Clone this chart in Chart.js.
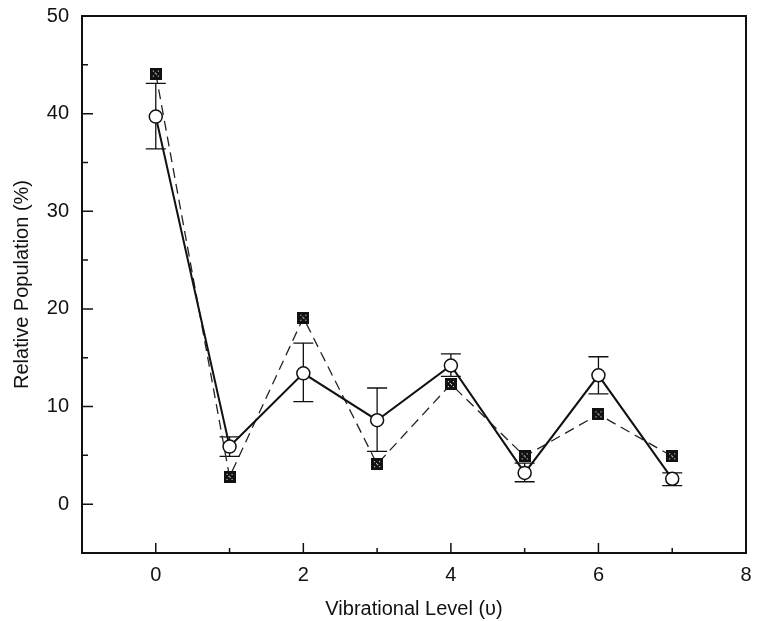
<!DOCTYPE html>
<html>
<head>
<meta charset="utf-8">
<script src="https://cdn.jsdelivr.net/npm/chart.js@4.4.1/dist/chart.umd.min.js"></script>
<style>
  html, body { margin: 0; padding: 0; background: #fff; }
  #wrap { width: 757px; height: 621px; }
</style>
</head>
<body>
<div id="wrap"><canvas id="chartPopulation"></canvas></div>
<script>
// vibrational level data
const levels = [0, 1, 2, 3, 4, 5, 6, 7];
const measured = [39.7, 5.9, 13.4, 8.6, 14.2, 3.2, 13.2, 2.6];
const errUpper = [43.1, 6.9, 16.5, 11.9, 15.4, 4.2, 15.1, 3.2];
const errLower = [36.4, 4.9, 10.5, 5.4, 13.1, 2.3, 11.3, 1.9];
const calculated = [44.1, 2.8, 19.1, 4.1, 12.3, 4.9, 9.2, 4.9];

const xMajor = [0, 2, 4, 6, 8];
const xMinor = [1, 3, 5, 7];
const yMajor = [0, 10, 20, 30, 40, 50];
const yMinor = [5, 15, 25, 35, 45];

const fontFamily = '"Liberation Sans", Arial, Helvetica, sans-serif';

// little black square with white speckles
function makeSquare() {
    const c = document.createElement('canvas');
    c.width = 12; c.height = 12;
    const g = c.getContext('2d');
    g.fillStyle = '#111';
    g.fillRect(0, 0, 12, 12);
    g.fillStyle = '#fff';
    [[3, 3], [8, 3], [5, 5], [6, 6], [3, 8], [8, 8]].forEach(p => g.fillRect(p[0], p[1], 1, 1));
    return c;
}

// keep the plot box where the scan has it
function noPad(s) {
    s.paddingTop = 0; s.paddingBottom = 0; s.paddingLeft = 0; s.paddingRight = 0;
}

const errorBars = {
    id: 'errorBars',
    beforeDatasetsDraw(chart) {
        const ctx = chart.ctx, x = chart.scales.x, y = chart.scales.y;
        ctx.save();
        ctx.strokeStyle = '#111';
        ctx.lineWidth = 1.3;
        levels.forEach((lv, i) => {
            const px = x.getPixelForValue(lv);
            const top = y.getPixelForValue(errUpper[i]);
            const bot = y.getPixelForValue(errLower[i]);
            ctx.beginPath();
            ctx.moveTo(px, top); ctx.lineTo(px, bot);
            ctx.moveTo(px - 10, top); ctx.lineTo(px + 10, top);
            ctx.moveTo(px - 10, bot); ctx.lineTo(px + 10, bot);
            ctx.stroke();
        });
        ctx.restore();
    }
};

const frame = {
    id: 'frame',
    afterDraw(chart) {
        const ctx = chart.ctx, a = chart.chartArea, x = chart.scales.x, y = chart.scales.y;
        ctx.save();
        ctx.strokeStyle = '#111';
        ctx.lineWidth = 2;
        ctx.strokeRect(a.left, a.top, a.right - a.left, a.bottom - a.top);
        ctx.lineWidth = 1.5;
        ctx.beginPath();
        xMajor.forEach(v => { const p = x.getPixelForValue(v); ctx.moveTo(p, a.bottom); ctx.lineTo(p, a.bottom - 10); });
        xMinor.forEach(v => { const p = x.getPixelForValue(v); ctx.moveTo(p, a.bottom); ctx.lineTo(p, a.bottom - 5); });
        yMajor.forEach(v => { const p = y.getPixelForValue(v); ctx.moveTo(a.left, p); ctx.lineTo(a.left + 11, p); });
        yMinor.forEach(v => { const p = y.getPixelForValue(v); ctx.moveTo(a.left, p); ctx.lineTo(a.left + 6, p); });
        ctx.stroke();
        ctx.restore();
    }
};

const ctx = document.getElementById('chartPopulation').getContext('2d');
const chart = new Chart(ctx, {
    type: 'line',
    data: {
        datasets: [{
            data: levels.map((lv, i) => ({ x: lv, y: measured[i] })),
            borderColor: '#111',
            borderWidth: 2,
            pointStyle: 'circle',
            pointRadius: 6.5,
            pointBorderWidth: 1.5,
            pointBackgroundColor: '#fff',
            pointBorderColor: '#111',
            tension: 0
        }, {
            data: levels.map((lv, i) => ({ x: lv, y: calculated[i] })),
            borderColor: '#222',
            borderWidth: 1.3,
            borderDash: [10, 6],
            pointStyle: makeSquare(),
            pointRadius: 6,
            tension: 0
        }]
    },
    options: {
        responsive: true,
        maintainAspectRatio: false,
        animation: false,
        layout: { padding: { top: 16, right: 11, left: 0, bottom: 0 } },
        plugins: { legend: { display: false }, tooltip: { enabled: false } },
        scales: {
            x: {
                type: 'linear',
                min: -1,
                max: 8,
                grid: { display: false, drawTicks: false },
                border: { display: false },
                afterFit: s => { s.height = 68; noPad(s); },
                ticks: {
                    stepSize: 2,
                    padding: 10,
                    color: '#111',
                    font: { family: fontFamily, size: 20 }
                },
                afterBuildTicks: s => { s.ticks = xMajor.map(v => ({ value: v })); },
                title: {
                    display: true,
                    text: 'Vibrational Level (\u03c5)',
                    color: '#111',
                    font: { family: fontFamily, size: 20 },
                    padding: { top: 4, bottom: 0 }
                }
            },
            y: {
                min: -5,
                max: 50,
                grid: { display: false, drawTicks: false },
                border: { display: false },
                afterFit: s => { s.width = 82; noPad(s); },
                ticks: {
                    padding: 13,
                    color: '#111',
                    font: { family: fontFamily, size: 20 }
                },
                afterBuildTicks: s => { s.ticks = yMajor.map(v => ({ value: v })); },
                title: {
                    display: true,
                    text: 'Relative Population (%)',
                    color: '#111',
                    font: { family: fontFamily, size: 20 },
                    padding: { top: 10 }
                }
            }
        }
    },
    plugins: [errorBars, frame]
});
</script>
</body>
</html>
